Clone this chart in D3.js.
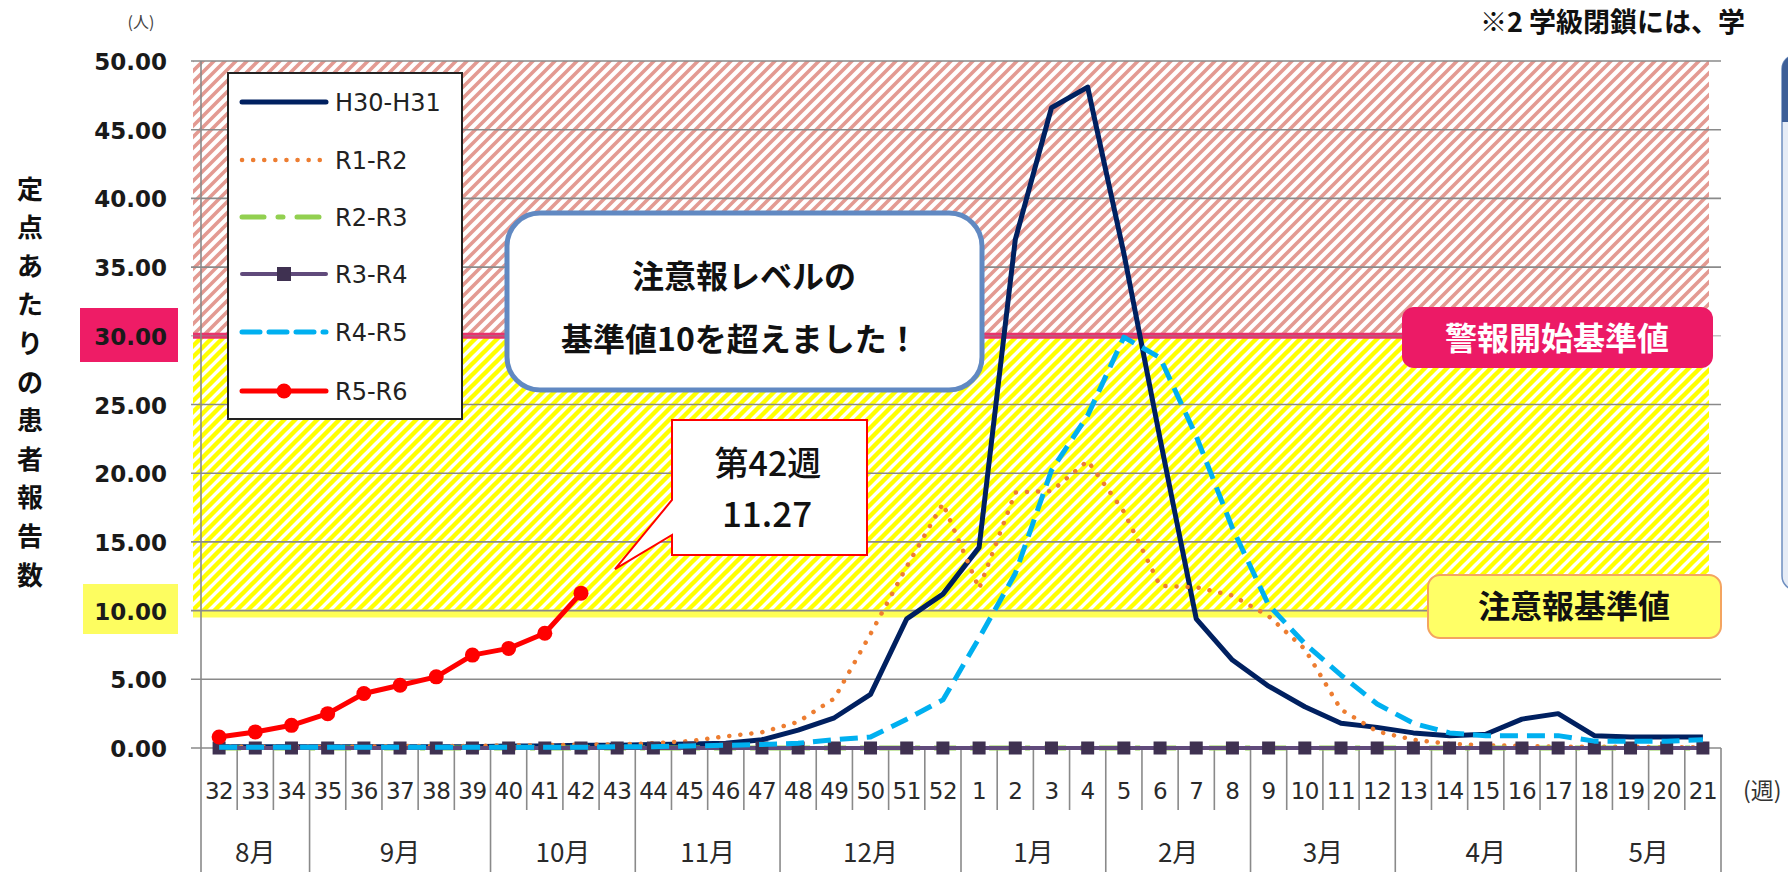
<!DOCTYPE html>
<html><head><meta charset="utf-8">
<script src="https://cdn.jsdelivr.net/npm/d3@7"></script>
<style>html,body{margin:0;padding:0;background:#fff;overflow:hidden}</style>
</head><body>
<svg id="c" width="1788" height="872"></svg>
<script>
// ---------- data ----------
const weeks = ["32","33","34","35","36","37","38","39","40","41","42","43","44","45","46","47","48","49","50","51","52",
  "1","2","3","4","5","6","7","8","9","10","11","12","13","14","15","16","17","18","19","20","21"];
const months = ["8月","9月","10月","11月","12月","1月","2月","3月","4月","5月"];
const monthWeeks = [3,5,4,4,5,4,4,4,5,4];
const yTicks = [0,5,10,15,20,25,30,35,40,45,50];
const seriesNames = ["H30-H31","R1-R2","R2-R3","R3-R4","R4-R5","R5-R6"];
const h30 = [0.1,0.1,0.1,0.1,0.1,0.1,0.1,0.1,0.15,0.15,0.2,0.2,0.25,0.3,0.35,0.6,1.3,2.2,3.9,9.4,11.2,
  14.6,37.0,46.6,48.1,36.0,22.5,9.4,6.4,4.5,3.0,1.8,1.5,1.1,0.9,1.0,2.1,2.5,0.9,0.8,0.8,0.8];
const r1 = [0.1,0.1,0.1,0.1,0.1,0.15,0.15,0.15,0.2,0.2,0.25,0.25,0.35,0.5,0.85,1.15,1.9,3.6,8.3,13.2,17.8,
  11.6,18.6,18.7,20.9,17.2,11.8,11.7,11.1,9.6,7.2,2.8,1.2,0.6,0.3,0.2,0.15,0.1,0.1,0.1,0.05,0.05];
const r2 = [0,0,0,0,0,0,0,0,0,0,0,0,0,0,0,0,0,0,0,0,0,0,0,0,0,0,0,0,0,0,0,0,0,0,0,0,0,0,0,0,0,0];
const r3 = [0,0,0,0,0,0,0,0,0,0,0,0,0,0,0,0,0,0,0,0,0,0,0,0,0,0,0,0,0,0,0,0,0,0,0,0,0,0,0,0,0,0];
const r4 = [0.05,0.05,0.05,0.05,0.05,0.05,0.05,0.05,0.05,0.05,0.05,0.1,0.1,0.15,0.2,0.25,0.35,0.6,0.8,2.1,3.5,
  8.0,12.7,20.2,24.2,29.9,28.4,22.7,16.0,10.4,7.6,5.3,3.2,1.8,1.1,0.9,0.9,0.9,0.5,0.5,0.5,0.6];
const r5 = [0.80,1.17,1.65,2.50,3.97,4.57,5.18,6.76,7.25,8.35,11.27];
const warnLevel = 30, alertLevel = 10;
const callWeek = "42", callValue = 11.27;

// ---------- scales ----------
const svg = d3.select("#c");
const L = 201, R = 1721, T = 61, B = 748;
const x = d3.scaleBand().domain(weeks).range([L, R]).paddingInner(0).paddingOuter(0);
const xc = w => x(w) + x.bandwidth()/2;
const y = d3.scaleLinear().domain([0,50]).range([B, T]);
const defs = svg.append("defs");
function hatch(id, col, sw){
  const p = defs.append("pattern").attr("id",id).attr("patternUnits","userSpaceOnUse").attr("width",11).attr("height",11);
  p.append("rect").attr("width",11).attr("height",11).attr("fill","#fff");
  p.append("path").attr("d","M-2.75,2.75 l5.5,-5.5 M0,11 l11,-11 M8.25,13.75 l5.5,-5.5").attr("stroke",col).attr("stroke-width",sw);
}
hatch("hr","#e39a92",3.6);
hatch("hy","#ffff00",4.4);

// zones
svg.append("rect").attr("x",193).attr("y",y(50)).attr("width",1709-193).attr("height",y(warnLevel)-y(50)).attr("fill","url(#hr)");
svg.append("rect").attr("x",193).attr("y",y(warnLevel)).attr("width",1709-193).attr("height",y(alertLevel)-y(warnLevel)).attr("fill","url(#hy)");

// threshold lines
svg.append("line").attr("x1",193).attr("x2",1709).attr("y1",y(warnLevel)).attr("y2",y(warnLevel)).attr("stroke","#e8336c").attr("stroke-width",6);
svg.append("line").attr("x1",193).attr("x2",1709).attr("y1",y(alertLevel)+3).attr("y2",y(alertLevel)+3).attr("stroke","#ffff55").attr("stroke-width",8);

// gridlines
svg.append("g").selectAll("line").data(yTicks.filter(v=>v>0)).join("line")
  .attr("x1",191).attr("x2",R).attr("y1",d=>y(d)).attr("y2",d=>y(d))
  .attr("stroke","#8a8a8a").attr("stroke-width",1.6).attr("opacity",d=>d===warnLevel?0.5:1);

// axis lines
svg.append("line").attr("x1",L).attr("x2",L).attr("y1",T).attr("y2",872).attr("stroke","#8a8a8a").attr("stroke-width",1.6);
svg.append("line").attr("x1",191).attr("x2",R).attr("y1",B).attr("y2",B).attr("stroke","#8a8a8a").attr("stroke-width",1.6);

// y label highlights
svg.append("rect").attr("x",80).attr("y",308).attr("width",98).attr("height",54).attr("fill","#ee1c66");
svg.append("rect").attr("x",83).attr("y",584).attr("width",95).attr("height",50).attr("fill","#fdfd60");

// y tick labels
svg.append("g").selectAll("text").data(yTicks).join("text")
  .attr("x",167).attr("y",d=>y(d)+9).attr("text-anchor","end")
  .attr("font-family","DejaVu Sans").attr("font-weight","bold").attr("font-size",23).attr("fill","#1a1a1a")
  .text(d=>d3.format(".2f")(d));

// x category separators
let bounds = new Set(); let acc=0; monthWeeks.forEach(n=>{acc+=n; bounds.add(acc);}); bounds.add(0);
svg.append("g").selectAll("line").data(d3.range(1,43)).join("line")
  .attr("x1",i=>L+i*x.bandwidth()).attr("x2",i=>L+i*x.bandwidth())
  .attr("y1",B).attr("y2",i=>bounds.has(i)?872:810)
  .attr("stroke","#8a8a8a").attr("stroke-width",1.6);

// week labels
svg.append("g").selectAll("text").data(weeks).join("text")
  .attr("x",d=>xc(d)).attr("y",799).attr("text-anchor","middle")
  .attr("font-family","DejaVu Sans").attr("font-size",23).attr("fill","#2a2a2a").attr("letter-spacing",-0.5)
  .text(d=>d);
// month labels
let start=0;
const mpos = monthWeeks.map(n=>{const s=start; start+=n; return (L + (s + n/2)*x.bandwidth());});
svg.append("g").selectAll("text").data(months).join("text")
  .attr("x",(d,i)=>mpos[i]).attr("y",862).attr("text-anchor","middle")
  .attr("font-family","Noto Sans CJK JP").attr("font-size",26).attr("fill","#2a2a2a")
  .text(d=>d);

svg.append("text").attr("x",1743).attr("y",799).attr("font-family","Noto Sans CJK JP").attr("font-size",23).attr("fill","#333").text("(週)");
svg.append("text").attr("x",141).attr("y",28).attr("text-anchor","middle").attr("font-family","Noto Sans CJK JP").attr("font-size",16).attr("fill","#444").text("(人)");

// y title vertical
const ytitle = "定点あたりの患者報告数".split("");
svg.append("g").selectAll("text").data(ytitle).join("text")
  .attr("x",30).attr("y",(d,i)=>187+i*38.6).attr("text-anchor","middle").attr("dominant-baseline","central")
  .attr("font-family","Noto Sans CJK JP").attr("font-weight","bold").attr("font-size",26).attr("fill","#111")
  .text(d=>d);

// top right note
svg.append("text").attr("x",1480).attr("y",32).attr("font-family","Noto Sans CJK JP").attr("font-weight","bold").attr("font-size",27).attr("fill","#111")
  .text("※2 学級閉鎖には、学");

// right panel (partially visible)
svg.append("rect").attr("x",1782).attr("y",55).attr("width",60).attr("height",535).attr("rx",14).attr("fill","#e6ecf6").attr("stroke","#6f8fc0").attr("stroke-width",1.5);
svg.append("path").attr("d","M1782,69 a14,14 0 0 1 14,-14 L1840,55 L1840,122 L1782,122 Z").attr("fill","#3d5f98");

// threshold labels
svg.append("rect").attr("x",1402).attr("y",307).attr("width",311).attr("height",61).attr("rx",12).attr("fill","#ec1a66");
svg.append("text").attr("x",1557).attr("y",350).attr("text-anchor","middle").attr("font-family","Noto Sans CJK JP").attr("font-weight","bold").attr("font-size",32).attr("fill","#fff").text("警報開始基準値");
svg.append("rect").attr("x",1428).attr("y",575).attr("width",293).attr("height",63).attr("rx",12).attr("fill","#ffff66").attr("stroke","#f4a460").attr("stroke-width",2);
svg.append("text").attr("x",1574).attr("y",618).attr("text-anchor","middle").attr("font-family","Noto Sans CJK JP").attr("font-weight","bold").attr("font-size",32).attr("fill","#111").text("注意報基準値");

// legend
const lg = svg.append("g");
lg.append("rect").attr("x",228).attr("y",73).attr("width",234).attr("height",346).attr("fill","#fff").attr("stroke","#222").attr("stroke-width",2);
const rowsY = [102,160,217,274,332,391];
const styles = [
  {c:"#002060", w:5, dash:null},
  {c:"#ed7d31", w:4.5, dash:"0.1 11", cap:"round"},
  {c:"#92d050", w:5, dash:"22 14 5 14"},
  {c:"#604a7b", w:4, dash:null, marker:"sq"},
  {c:"#00b0f0", w:5, dash:"18 9"},
  {c:"#ff0000", w:5, dash:null, marker:"ci"}
];
seriesNames.forEach((n,i)=>{
  const s = styles[i];
  lg.append("line").attr("x1",242).attr("x2",326).attr("y1",rowsY[i]).attr("y2",rowsY[i])
    .attr("stroke",s.c).attr("stroke-width",s.w).attr("stroke-dasharray",s.dash).attr("stroke-linecap",s.cap||"round");
  if(s.marker==="sq") lg.append("rect").attr("x",277).attr("y",rowsY[i]-7).attr("width",14).attr("height",14).attr("fill","#3f3151");
  if(s.marker==="ci") lg.append("circle").attr("cx",284).attr("cy",rowsY[i]).attr("r",7.5).attr("fill","#ff0000");
  lg.append("text").attr("x",335).attr("y",rowsY[i]+9).attr("font-family","DejaVu Sans").attr("font-size",24).attr("fill","#222").text(n);
});

// blue message box
svg.append("rect").attr("x",507).attr("y",213).attr("width",475).attr("height",177).attr("rx",33).attr("fill","#fff").attr("stroke","#6189c2").attr("stroke-width",5);
svg.append("text").attr("x",744).attr("y",288).attr("text-anchor","middle").attr("font-family","Noto Sans CJK JP").attr("font-weight","bold").attr("font-size",32).attr("fill","#111").text("注意報レベルの");
svg.append("text").attr("x",740).attr("y",351).attr("text-anchor","middle").attr("font-family","Noto Sans CJK JP").attr("font-weight","bold").attr("font-size",32).attr("fill","#111").text("基準値10を超えました！");

// series lines
const line = d3.line().x((d,i)=>xc(weeks[i])).y(d=>y(d));
const data = [h30,r1,r2,r3,r4,r5];
const sg = svg.append("g");
data.forEach((arr,i)=>{
  const s = styles[i];
  sg.append("path").attr("d",line(arr)).attr("fill","none").attr("stroke",s.c).attr("stroke-width",s.w)
    .attr("stroke-dasharray",s.dash).attr("stroke-linecap",s.cap||"butt").attr("stroke-linejoin","round");
  if(s.marker==="sq") sg.append("g").selectAll("rect").data(arr).join("rect")
    .attr("x",(d,j)=>xc(weeks[j])-6.5).attr("y",d=>y(d)-6.5).attr("width",13).attr("height",13).attr("fill","#3f3151");
  if(s.marker==="ci") sg.append("g").selectAll("circle").data(arr).join("circle")
    .attr("cx",(d,j)=>xc(weeks[j])).attr("cy",d=>y(d)).attr("r",7.5).attr("fill","#ff0000");
});

// red callout
const cx0 = 672, cy0 = 420, cw = 195, ch = 135;
const tipX = xc(callWeek)+34, tipY = y(callValue)-24;
svg.append("path").attr("d",`M${cx0},${cy0} H${cx0+cw} V${cy0+ch} H${cx0} V535 L${tipX},${tipY} L${cx0},500 Z`)
  .attr("fill","#fff").attr("stroke","#ff0000").attr("stroke-width",2);
svg.append("text").attr("x",768).attr("y",476).attr("text-anchor","middle").attr("font-family","Noto Sans CJK JP").attr("font-weight","500").attr("font-size",34).attr("fill","#111").text("第"+callWeek+"週");
svg.append("text").attr("x",767).attr("y",527).attr("text-anchor","middle").attr("font-family","Noto Sans CJK JP").attr("font-weight","500").attr("font-size",35).attr("fill","#111").text(d3.format(".2f")(callValue));
</script>
</body></html>
